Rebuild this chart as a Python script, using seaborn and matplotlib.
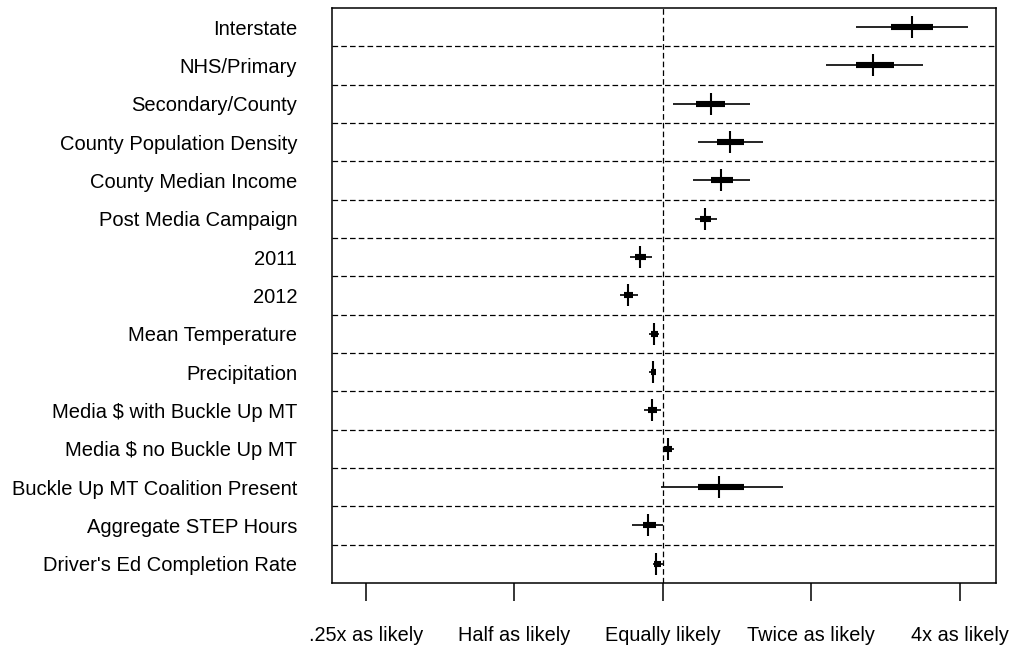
import seaborn as sns
import matplotlib.pyplot as plt
import pandas as pd

labels = ["Interstate", "NHS/Primary", "Secondary/County", "County Population Density",
          "County Median Income", "Post Media Campaign", "2011", "2012",
          "Mean Temperature", "Precipitation", "Media $ with Buckle Up MT",
          "Media $ no Buckle Up MT", "Buckle Up MT Coalition Present",
          "Aggregate STEP Hours", "Driver's Ed Completion Rate"]

# odds ratios
estimate = [3.20, 2.67, 1.25, 1.37, 1.31, 1.22, 0.90, 0.849, 0.959, 0.954, 0.950, 1.024, 1.30, 0.932, 0.968]
outer_lo = [2.47, 2.14, 1.05, 1.18, 1.15, 1.16, 0.857, 0.818, 0.936, 0.936, 0.915, 1.00, 0.991, 0.865, 0.954]
outer_hi = [4.17, 3.38, 1.50, 1.60, 1.50, 1.29, 0.95, 0.889, 0.981, 0.963, 0.991, 1.053, 1.75, 1.00, 1.005]
inner_lo = [2.91, 2.47, 1.17, 1.29, 1.25, 1.19, 0.88, 0.833, 0.945, 0.945, 0.932, 1.005, 1.18, 0.911, 0.959]
inner_hi = [3.54, 2.94, 1.34, 1.46, 1.39, 1.25, 0.923, 0.869, 0.977, 0.968, 0.972, 1.043, 1.46, 0.968, 0.991]

tick_vals = [0.25, 0.5, 1, 2, 4]
tick_labels = [".25x as likely", "Half as likely", "Equally likely", "Twice as likely", "4x as likely"]

df = pd.DataFrame({"label": labels, "est": estimate, "lo": outer_lo, "hi": outer_hi,
                   "ilo": inner_lo, "ihi": inner_hi})
df["pos"] = range(len(df))

sns.set_theme(style="white")
plt.rcParams["font.family"] = ["Liberation Sans", "DejaVu Sans"]

fig = plt.figure(figsize=(10.1, 6.49), dpi=100)
ax = fig.add_axes([0.3287, 0.1017, 0.6573, 0.8860])

ax.set_xscale("log", base=2)

# row separators and the no-effect line
for y in [p + 0.5 for p in df["pos"][:-1]]:
    ax.axhline(y, color="black", lw=0.9, dashes=(4.5, 2.5), zorder=1)
ax.axvline(1, color="black", lw=0.9, dashes=(4.5, 2.5), zorder=1)

ax.hlines(df["pos"], df["lo"], df["hi"], color="black", lw=1.2, zorder=2)
ax.hlines(df["pos"], df["ilo"], df["ihi"], color="black", lw=4.4, zorder=3)
sns.scatterplot(data=df, x="est", y="pos", marker="|", s=230, color="black",
                linewidth=1.5, ax=ax, zorder=4, legend=False)

ax.set_xlim(2 ** -2.23, 2 ** 2.245)
ax.set_ylim(len(df) - 0.5, -0.5)
ax.set_yticks(df["pos"])
ax.set_yticklabels(df["label"], fontsize=14.5, color="black")
ax.set_xticks(tick_vals)
ax.set_xticklabels(tick_labels, fontsize=14.3, color="black")
ax.minorticks_off()
ax.tick_params(axis="y", length=0, pad=25)
ax.tick_params(axis="x", direction="out", length=13, width=1.1, color="black", pad=18, bottom=True)
ax.set_xlabel("")
ax.set_ylabel("")
for s in ax.spines.values():
    s.set_color("black")
    s.set_linewidth(1.1)

fig.savefig("out.png", dpi=100)
